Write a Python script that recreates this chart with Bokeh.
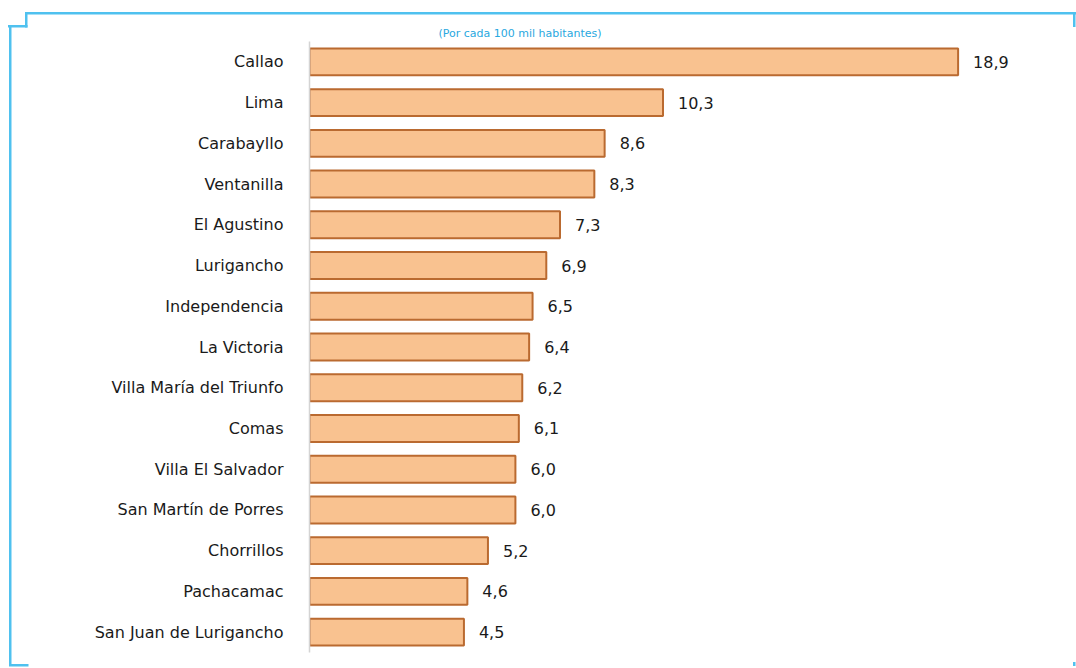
from bokeh.plotting import figure
from bokeh.models import ColumnDataSource, FactorRange, Range1d
from bokeh.core.properties import value
from bokeh.embed import file_html
from bokeh.resources import INLINE

districts = ["Callao", "Lima", "Carabayllo", "Ventanilla", "El Agustino", "Lurigancho",
             "Independencia", "La Victoria", "Villa María del Triunfo", "Comas",
             "Villa El Salvador", "San Martín de Porres", "Chorrillos", "Pachacamac",
             "San Juan de Lurigancho"]
rates = [18.9, 10.3, 8.6, 8.3, 7.3, 6.9, 6.5, 6.4, 6.2, 6.1, 6.0, 6.0, 5.2, 4.6, 4.5]
rate_labels = [f"{v:.1f}".replace(".", ",") for v in rates]
subtitle = "(Por cada 100 mil habitantes)"

W, H = 1076, 668
FRAME = "#4FC1EF"

src = ColumnDataSource(dict(d=districts, v=rates, lbl=rate_labels))

p = figure(width=W, height=H,
           y_range=FactorRange(factors=list(reversed(districts)), range_padding=0),
           x_range=Range1d(0, 22),
           output_backend="svg", toolbar_location=None,
           min_border_left=309, min_border_right=12,
           min_border_top=41, min_border_bottom=16)

p.hbar(y="d", left=0, right="v", height=0.66, source=src,
       fill_color="#F9C290", line_color="#BA6A30", line_width=2)

p.text(x="v", y="d", text="lbl", source=src, x_offset=15,
       text_baseline="middle", text_align="left",
       text_font=value("DejaVu Sans"), text_font_size="16px", text_color="#1a1a1a")

p.xaxis.visible = False
p.xgrid.visible = False
p.ygrid.visible = False
p.outline_line_color = None
p.yaxis.major_tick_line_color = None
p.yaxis.minor_tick_line_color = None
p.yaxis.axis_line_color = "#D4D4D4"
p.yaxis.axis_line_width = 1.5
p.yaxis.major_label_standoff = 20
p.yaxis.major_label_text_font = "DejaVu Sans"
p.yaxis.major_label_text_font_size = "16px"
p.yaxis.major_label_text_color = "#1a1a1a"

# subtitle (mostly cut off in the reference) as the figure title, at the very top
p.title.text = subtitle
p.title.align = "left"
p.title.offset = 129
p.title.vertical_align = "top"
p.title.standoff = 0
p.title.padding = (0, 0, 26, 0)
p.title.text_font = "DejaVu Sans"
p.title.text_font_size = "11px"
p.title.text_font_style = "normal"
p.title.text_color = "#29A8E0"

# transparent canvas so a CSS-drawn cyan frame (behind it) shows through
p.border_fill_color = None
p.background_fill_color = None
segs = [  # x, y, w, h in pixels
    (26, 12, 1050, 2.5),      # top
    (1072.5, 12, 2.5, 15),    # right short
    (25, 12, 2.5, 15.5),      # left short
    (8, 25, 19.5, 2.5),       # step
    (8.5, 25, 2.5, 641),      # left long
    (8.5, 663.5, 19.5, 2.5),  # bottom
    (1072.5, 662, 2.5, 4),    # bottom-right mark
]
p.styles = {
    "background-color": "white",
    "background-image": ", ".join([f"linear-gradient({FRAME}, {FRAME})"] * len(segs)),
    "background-size": ", ".join(f"{w}px {h}px" for _, _, w, h in segs),
    "background-position": ", ".join(f"{x}px {y}px" for x, y, _, _ in segs),
    "background-repeat": "no-repeat",
}

open("out.html", "w").write(file_html(p, INLINE))
